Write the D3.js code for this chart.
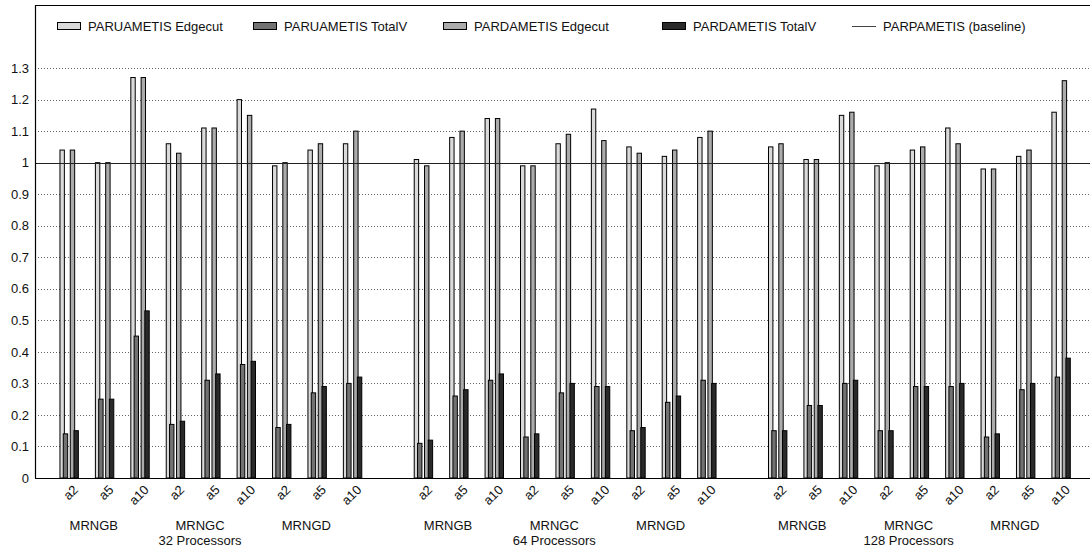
<!DOCTYPE html>
<html>
<head>
<meta charset="utf-8">
<script src="https://cdn.jsdelivr.net/npm/d3@7"></script>
<style>
  body { margin: 0; background: #fff; }
  svg text { font-family: "Liberation Sans", Arial, sans-serif; fill: #111; }
</style>
</head>
<body>
<div id="chart"></div>
<script>
// data
var processors = ["32 Processors", "64 Processors", "128 Processors"];
var graphs = ["MRNGB", "MRNGC", "MRNGD"];
var configs = ["a2", "a5", "a10"];
var seriesNames = ["PARUAMETIS Edgecut", "PARUAMETIS TotalV", "PARDAMETIS Edgecut", "PARDAMETIS TotalV"];
var baselineName = "PARPAMETIS (baseline)";
var yTicks = [0, 0.1, 0.2, 0.3, 0.4, 0.5, 0.6, 0.7, 0.8, 0.9, 1, 1.1, 1.2, 1.3];

// 27 values each: 32 procs (B a2,a5,a10, C..., D...), then 64, then 128
var uaEdgecut = [1.04, 1.00, 1.27, 1.06, 1.11, 1.20, 0.99, 1.04, 1.06,
                 1.01, 1.08, 1.14, 0.99, 1.06, 1.17, 1.05, 1.02, 1.08,
                 1.05, 1.01, 1.15, 0.99, 1.04, 1.11, 0.98, 1.02, 1.16];
var uaTotalV  = [0.14, 0.25, 0.45, 0.17, 0.31, 0.36, 0.16, 0.27, 0.30,
                 0.11, 0.26, 0.31, 0.13, 0.27, 0.29, 0.15, 0.24, 0.31,
                 0.15, 0.23, 0.30, 0.15, 0.29, 0.29, 0.13, 0.28, 0.32];
var daEdgecut = [1.04, 1.00, 1.27, 1.03, 1.11, 1.15, 1.00, 1.06, 1.10,
                 0.99, 1.10, 1.14, 0.99, 1.09, 1.07, 1.03, 1.04, 1.10,
                 1.06, 1.01, 1.16, 1.00, 1.05, 1.06, 0.98, 1.04, 1.26];
var daTotalV  = [0.15, 0.25, 0.53, 0.18, 0.33, 0.37, 0.17, 0.29, 0.32,
                 0.12, 0.28, 0.33, 0.14, 0.30, 0.29, 0.16, 0.26, 0.30,
                 0.15, 0.23, 0.31, 0.15, 0.29, 0.30, 0.14, 0.30, 0.38];
var baseline = 1;

var seriesValues = [uaEdgecut, uaTotalV, daEdgecut, daTotalV];

// layout
var width = 1090;
var height = 552;
var margins = { top: 5, bottom: 74, left: 35, right: 0 };
var fills = ["#dadada", "#727272", "#ababab", "#2a2a2a"];
var barWidth = 4.4;
var barOffsets = [-9.4, -6.1, 0.9, 4.6]; // px from slot centre
var legendX = [57, 253, 443, 662, 852];

// one row per bar
var rows = [];
var slots = [];
processors.forEach(function(p, pi) {
  graphs.forEach(function(g, gi) {
    configs.forEach(function(c, ci) {
      var k = pi * 9 + gi * 3 + ci;
      var slot = pi * 10 + gi * 3 + ci;
      slots.push({ slot: slot, label: c });
      seriesValues.forEach(function(vals, si) {
        rows.push({ slot: slot, series: si, value: vals[k] });
      });
    });
  });
});

var svg = d3.select("#chart")
  .append("svg")
  .attr("width", width)
  .attr("height", height);

var x = d3.scaleLinear()
  .domain([-0.97, 28.81])
  .range([margins.left, width - margins.right]);

var y = d3.scaleLinear()
  .domain([0, 1.5])
  .range([height - margins.bottom, margins.top]);

// dotted grid
svg.append("g")
  .selectAll("line")
  .data(yTicks.filter(function(t) { return t > 0 && t !== baseline; }))
  .enter()
  .append("line")
  .attr("x1", margins.left)
  .attr("x2", width - margins.right)
  .attr("y1", function(d) { return Math.round(y(d)) + 0.5; })
  .attr("y2", function(d) { return Math.round(y(d)) + 0.5; })
  .attr("stroke", "#666")
  .attr("stroke-width", 1)
  .attr("stroke-dasharray", "1,2");

// y axis labels
var yAxis = d3.axisLeft(y)
  .tickValues(yTicks)
  .tickSize(0)
  .tickPadding(6)
  .tickFormat(function(d) { return d3.format("")(+d.toFixed(1)); });

svg.append("g")
  .attr("transform", "translate(" + margins.left + ",0)")
  .call(yAxis)
  .call(function(g) { g.select(".domain").remove(); })
  .selectAll("text")
  .attr("font-size", 13)
  .attr("font-family", "Liberation Sans, Arial, sans-serif");

// bars
svg.append("g")
  .selectAll("rect")
  .data(rows)
  .enter()
  .append("rect")
  .attr("x", function(d) { return x(d.slot) + barOffsets[d.series]; })
  .attr("y", function(d) { return y(d.value); })
  .attr("width", barWidth)
  .attr("height", function(d) { return y(0) - y(d.value); })
  .attr("fill", function(d) { return fills[d.series]; })
  .attr("stroke", "#000")
  .attr("stroke-width", 1);

// baseline
svg.append("line")
  .attr("x1", margins.left)
  .attr("x2", width - margins.right)
  .attr("y1", Math.round(y(baseline)) + 0.5)
  .attr("y2", Math.round(y(baseline)) + 0.5)
  .attr("stroke", "#222")
  .attr("stroke-width", 1.2);

// frame: top, left, bottom
var frame = svg.append("g").attr("stroke", "#000").attr("stroke-width", 1.2);
frame.append("line")
  .attr("x1", margins.left).attr("x2", width)
  .attr("y1", margins.top + 0.5).attr("y2", margins.top + 0.5);
frame.append("line")
  .attr("x1", margins.left + 0.5).attr("x2", margins.left + 0.5)
  .attr("y1", margins.top).attr("y2", y(0));
frame.append("line")
  .attr("x1", margins.left).attr("x2", width)
  .attr("y1", Math.round(y(0)) + 0.5).attr("y2", Math.round(y(0)) + 0.5);

// x tick labels, rotated
svg.append("g")
  .selectAll("text")
  .data(slots)
  .enter()
  .append("text")
  .attr("transform", function(d) {
    return "translate(" + (x(d.slot) + 4) + "," + (y(0) + 7) + ") rotate(-45)";
  })
  .attr("text-anchor", "end")
  .attr("dy", "0.6em")
  .attr("font-size", 13)
  .text(function(d) { return d.label; });

// group labels
processors.forEach(function(p, pi) {
  graphs.forEach(function(g, gi) {
    var cx = x(pi * 10 + gi * 3 + 1) - 11;
    svg.append("text")
      .attr("x", cx)
      .attr("y", 530)
      .attr("text-anchor", "middle")
      .attr("font-size", 13)
      .text(g);
    if (gi === 1) {
      svg.append("text")
        .attr("x", cx)
        .attr("y", 545)
        .attr("text-anchor", "middle")
        .attr("font-size", 13)
        .text(p);
    }
  });
});

// legend
var legend = svg.append("g");
seriesNames.concat([baselineName]).forEach(function(name, i) {
  var item = legend.append("g").attr("transform", "translate(" + legendX[i] + ",0)");
  if (i < 4) {
    item.append("rect")
      .attr("x", 0.5).attr("y", 22.5)
      .attr("width", 23).attr("height", 7)
      .attr("fill", fills[i])
      .attr("stroke", "#000")
      .attr("stroke-width", 1);
  } else {
    item.append("line")
      .attr("x1", 0).attr("x2", 24)
      .attr("y1", 26.5).attr("y2", 26.5)
      .attr("stroke", "#444")
      .attr("stroke-width", 1);
  }
  item.append("text")
    .attr("x", 31)
    .attr("y", 31)
    .attr("font-size", 13)
    .text(name);
});
</script>
</body>
</html>
